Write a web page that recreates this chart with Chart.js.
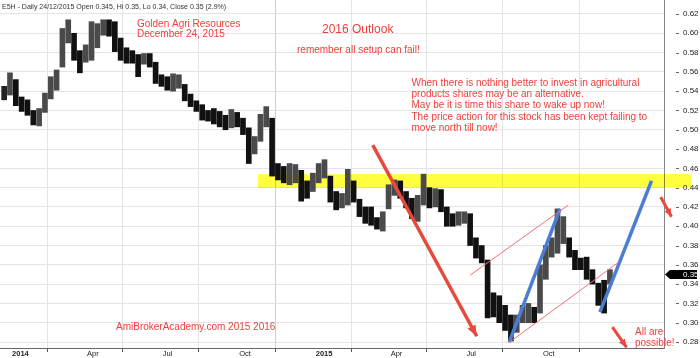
<!DOCTYPE html>
<html><head><meta charset="utf-8">
<script src="https://cdn.jsdelivr.net/npm/chart.js@4/dist/chart.umd.min.js"></script>
<style>html,body{margin:0;padding:0;background:#fff;}#wrap{width:700px;height:358px;}</style>
</head><body><div id="wrap"><canvas id="c" width="700" height="358"></canvas></div>
<script>
// ---- DATA (weekly ranges) ----
const weekDates = [
'2013-12-25','2014-01-01','2014-01-08','2014-01-15','2014-01-22','2014-01-29','2014-02-05','2014-02-12','2014-02-19','2014-02-26',
'2014-03-05','2014-03-12','2014-03-19','2014-03-26','2014-04-02','2014-04-09','2014-04-16','2014-04-23','2014-04-30','2014-05-07',
'2014-05-14','2014-05-21','2014-05-28','2014-06-04','2014-06-11','2014-06-18','2014-06-25','2014-07-02','2014-07-09','2014-07-16',
'2014-07-23','2014-07-30','2014-08-06','2014-08-13','2014-08-20','2014-08-27','2014-09-03','2014-09-10','2014-09-17','2014-09-24',
'2014-10-01','2014-10-08','2014-10-15','2014-10-22','2014-10-29','2014-11-05','2014-11-12','2014-11-19','2014-11-26','2014-12-03',
'2014-12-10','2014-12-17','2014-12-24','2014-12-31','2015-01-07','2015-01-14','2015-01-21','2015-01-28','2015-02-04','2015-02-11',
'2015-02-18','2015-02-25','2015-03-04','2015-03-11','2015-03-18','2015-03-25','2015-04-01','2015-04-08','2015-04-15','2015-04-22',
'2015-04-29','2015-05-06','2015-05-13','2015-05-20','2015-05-27','2015-06-03','2015-06-10','2015-06-17','2015-06-24','2015-07-01',
'2015-07-08','2015-07-15','2015-07-22','2015-07-29','2015-08-05','2015-08-12','2015-08-19','2015-08-26','2015-09-02','2015-09-09',
'2015-09-16','2015-09-23','2015-09-30','2015-10-07','2015-10-14','2015-10-21','2015-10-28','2015-11-04','2015-11-11','2015-11-18',
'2015-11-25','2015-12-02','2015-12-09','2015-12-16','2015-12-23'];
const weekLow = [
.531,.536,.525,.519,.515,.505,.504,.518,.532,.541,
.565,.590,.572,.559,.570,.572,.585,.598,.597,.581,
.572,.569,.569,.555,.568,.565,.548,.545,.541,.540,
.543,.530,.524,.519,.510,.509,.506,.503,.500,.502,
.503,.495,.465,.475,.488,.503,.452,.448,.445,.443,
.445,.426,.429,.436,.445,.450,.425,.417,.419,.422,
.425,.410,.403,.401,.397,.395,.418,.432,.429,.419,
.408,.405,.422,.419,.420,.415,.400,.400,.401,.403,
.380,.367,.362,.305,.306,.300,.292,.281,.290,.300,
.300,.300,.310,.345,.368,.372,.382,.368,.355,.355,
.345,.340,.318,.310,.340];
const weekHigh = [
.545,.559,.552,.534,.531,.520,.522,.538,.555,.562,
.605,.614,.600,.582,.588,.612,.610,.614,.614,.612,
.595,.585,.582,.578,.579,.579,.570,.557,.555,.558,
.557,.547,.537,.530,.526,.520,.522,.519,.515,.521,
.518,.512,.502,.493,.516,.524,.512,.465,.462,.465,
.464,.458,.447,.455,.465,.469,.452,.436,.434,.459,
.447,.428,.420,.420,.409,.415,.443,.448,.447,.436,
.429,.432,.454,.440,.439,.438,.420,.413,.415,.415,
.413,.388,.380,.365,.331,.328,.318,.308,.308,.318,
.320,.316,.360,.380,.388,.418,.410,.388,.375,.367,
.368,.355,.341,.344,.355];
const priceTicks = [0.28,0.30,0.32,0.34,0.36,0.38,0.40,0.42,0.44,0.46,0.48,0.50,0.52,0.54,0.56,0.58,0.60,0.62];
const quarterDates = ['2014-01-01','2014-04-01','2014-07-01','2014-10-01','2015-01-01','2015-04-01','2015-07-01','2015-10-01'];
const quarterLabels = ['2014','Apr','Jul','Oct','2015','Apr','Jul','Oct'];
const lastClose = 0.35;
const headerText = 'E5H - Daily 24/12/2015 Open 0.345, Hi 0.35, Lo 0.34, Close 0.35 (2.9%)';

// resistance zone
const zoneDates = ['2014-10-26','2016-03-30'];
const zonePrices = [0.440, 0.454];
// drawn trend annotations (date, price)
const bigArrowDates = ['2015-03-13','2015-07-16'];
const bigArrowPrices = [0.484, 0.286];
const smallArrow1Dates = ['2015-12-26','2016-01-12'];
const smallArrow1Prices = [0.2954, 0.2745];
const smallArrow2Dates = ['2016-02-22','2016-03-06'];
const smallArrow2Prices = [0.4303, 0.4098];
const blueLine1Dates = ['2015-08-24','2015-10-24'];
const blueLine1Prices = [0.280, 0.418];
const blueLine2Dates = ['2015-12-11','2016-02-11'];
const blueLine2Prices = [0.311, 0.447];
const channelUpDates = ['2015-07-08','2015-11-03'];
const channelUpPrices = [0.3493, 0.422];
const channelLowDates = ['2015-08-23','2016-01-03'];
const channelLowPrices = [0.279, 0.363];

const FONT = '"Liberation Sans", Arial, Helvetica, sans-serif';
const RED = '#ee3f3a';

function day(s){const p=s.split('-').map(Number);return (Date.UTC(p[0],p[1]-1,p[2])-Date.UTC(2014,0,1))/864e5;}
function pts(ds,ps){return ds.map((d,i)=>({x:day(d),y:ps[i]}));}
function lineDs(color,width,ds,ps,arrow){
  return {type:'line',data:pts(ds,ps),borderColor:color,borderWidth:width,pointRadius:0,clip:false,order:0,fill:false,tension:0,arrowHead:arrow||null,borderCapStyle:'butt'};
}
// up weeks grey, down weeks black (AmiBroker style shading)
const barColors = weekLow.map((l,i)=>{
  if(i===0)return '#222';
  const m=(l+weekHigh[i])/2,pm=(weekLow[i-1]+weekHigh[i-1])/2;
  return m>=pm?'#4a4a4a':'#111';
});

const zonePlugin = {
  id:'zone',
  beforeDatasetsDraw(chart){
    const {ctx,scales:{x,y}}=chart;
    const x1=x.getPixelForValue(day(zoneDates[0])), x2=x.getPixelForValue(day(zoneDates[1]));
    const y1=y.getPixelForValue(zonePrices[1]), y2=y.getPixelForValue(zonePrices[0]);
    ctx.save();ctx.globalCompositeOperation='multiply';ctx.fillStyle='#ffff40';
    ctx.fillRect(x1,y1,x2-x1,y2-y1);ctx.restore();
  }
};
const arrowPlugin = {
  id:'arrows',
  afterDatasetsDraw(chart){
    const ctx=chart.ctx;
    chart.data.datasets.forEach((ds,i)=>{
      if(!ds.arrowHead)return;
      const p=chart.getDatasetMeta(i).data;const a=p[p.length-2],b=p[p.length-1];
      const ang=Math.atan2(b.y-a.y,b.x-a.x),L=ds.arrowHead[0],W=ds.arrowHead[1];
      const c=Math.cos(ang),s=Math.sin(ang);
      ctx.save();ctx.fillStyle=ds.borderColor;ctx.beginPath();
      ctx.moveTo(b.x,b.y);
      ctx.lineTo(b.x-L*c+W/2*s,b.y-L*s-W/2*c);
      ctx.lineTo(b.x-L*c-W/2*s,b.y-L*s+W/2*c);
      ctx.closePath();ctx.fill();ctx.restore();
    });
  }
};
const textPlugin = {
  id:'texts',
  afterDraw(chart){
    const ctx=chart.ctx;const y=chart.scales.y;
    ctx.save();
    ctx.textBaseline='alphabetic';ctx.textAlign='left';
    ctx.fillStyle='#333';ctx.font='7px '+FONT;
    ctx.fillText(headerText,2,8.5);
    ctx.fillStyle=RED;
    ctx.font='10px '+FONT;
    ctx.fillText('Golden Agri Resources',137,26.5);
    ctx.fillText('December 24, 2015',137,36.5);
    ctx.font='12px '+FONT;
    ctx.fillText('2016 Outlook',322,33);
    ctx.font='10px '+FONT;
    ctx.fillText('remember all setup can fail!',297,53);
    const para=['When there is nothing better to invest in agricultural','products shares may be an alternative.','May be it is time this share to wake up now!','The price action for this stock has been kept failing to','move north till now!'];
    para.forEach((t,i)=>ctx.fillText(t,411.5,86+11.2*i));
    ctx.fillText('AmiBrokerAcademy.com 2015 2016',116,330);
    ctx.fillText('All are',635,335);
    ctx.fillText('possible!',635,345.5);
    // y tick dashes
    ctx.strokeStyle='#666';ctx.lineWidth=1;
    y.ticks.forEach(t=>{const py=Math.round(y.getPixelForValue(t.value))+0.5;ctx.beginPath();ctx.moveTo(y.left+12,py);ctx.lineTo(y.left+15,py);ctx.stroke();});
    // last price marker
    const py=y.getPixelForValue(lastClose);
    ctx.fillStyle='#000';ctx.beginPath();
    ctx.moveTo(y.left+1,py);ctx.lineTo(y.left+6,py-4.5);ctx.lineTo(y.left+33,py-4.5);ctx.lineTo(y.left+33,py+4.5);ctx.lineTo(y.left+6,py+4.5);ctx.closePath();ctx.fill();
    ctx.fillStyle='#fff';ctx.font='8px '+FONT;ctx.textBaseline='middle';
    ctx.fillText(lastClose.toFixed(2),y.left+19,py+0.5);
    ctx.restore();
  }
};

new Chart(document.getElementById('c'),{
  type:'bar',
  data:{datasets:[
    {type:'bar',data:weekDates.map((d,i)=>({x:day(d),y:[weekLow[i],weekHigh[i]]})),backgroundColor:barColors,barThickness:5,order:10},
    lineDs('#f27070',1,channelUpDates,channelUpPrices),
    lineDs('#f27070',1,channelLowDates,channelLowPrices),
    lineDs('#4b7dd3',3.5,blueLine1Dates,blueLine1Prices),
    lineDs('#4b7dd3',3.5,blueLine2Dates,blueLine2Prices),
    lineDs('#e8493d',3.5,bigArrowDates,bigArrowPrices,[11,9]),
    lineDs('#e8493d',3,smallArrow1Dates,smallArrow1Prices,[8,7]),
    lineDs('#e8493d',3,smallArrow2Dates,smallArrow2Prices,[8,7])
  ]},
  options:{
    responsive:false,animation:false,events:[],
    layout:{padding:0},
    plugins:{legend:{display:false},tooltip:{enabled:false}},
    scales:{
      x:{type:'linear',offset:false,min:day('2013-12-20'),max:day('2016-02-26'),
        afterBuildTicks:s=>{s.ticks=quarterDates.map(d=>({value:day(d)}));},
        afterFit:s=>{s.height=10;s.paddingLeft=0;s.paddingRight=0;},
        grid:{color:c=>(/^\d{4}$/.test(quarterLabels[c.index]||'')?'#cfcfcf':'#e4e4e4'),lineWidth:1,drawTicks:true,tickLength:4,tickColor:'#555'},
        border:{display:true,color:'#666',width:1},
        ticks:{autoSkip:false,maxRotation:0,minRotation:0,align:'start',padding:-3,color:'#222',
          font:c=>({family:FONT,size:7.5,weight:/^\d{4}$/.test(quarterLabels[c.index]||'')?'bold':'normal'}),
          callback:(v,i)=>' '+quarterLabels[i]}
      },
      y:{type:'linear',position:'right',min:0.2738,max:0.6345,
        afterBuildTicks:s=>{s.ticks=priceTicks.map(v=>({value:v}));},
        afterFit:s=>{s.width=36;s.paddingTop=0;s.paddingBottom=0;},
        grid:{color:'#e4e4e4',drawTicks:false},
        border:{display:true,color:'#888',width:1},
        ticks:{padding:19,color:'#222',font:{family:FONT,size:8},callback:v=>v.toFixed(2)}
      }
    }
  },
  plugins:[zonePlugin,arrowPlugin,textPlugin]
});
</script></body></html>
